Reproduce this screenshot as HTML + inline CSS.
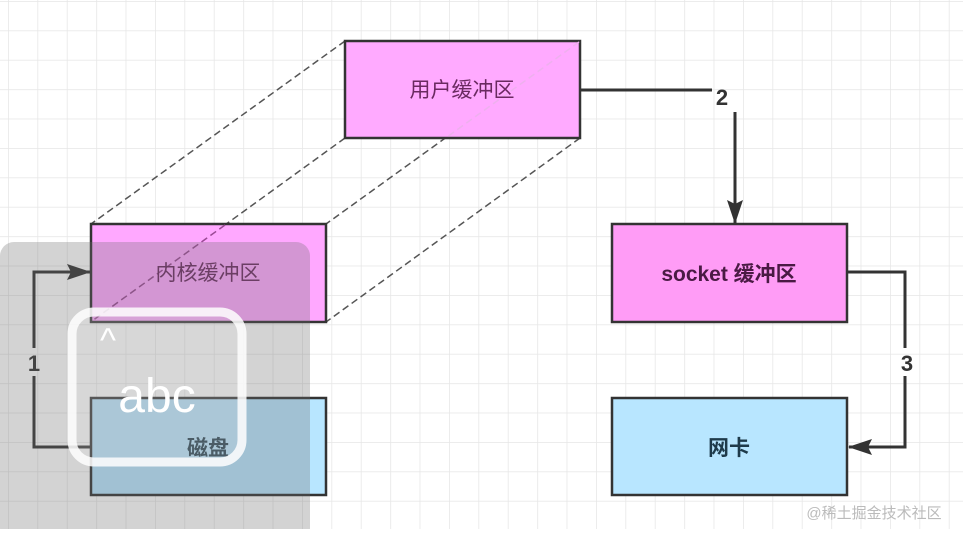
<!DOCTYPE html>
<html><head><meta charset="utf-8"><style>
body{margin:0;width:963px;height:529px;overflow:hidden;background:#fff;font-family:"Liberation Sans","Noto Sans CJK SC",sans-serif}
</style></head><body>
<svg width="963" height="529" xmlns="http://www.w3.org/2000/svg">
<defs>
<pattern id="g" x="8" y="1" width="29.4" height="29.4" patternUnits="userSpaceOnUse">
<path d="M0 0V29.4M0 0H29.4" stroke="#e6e6e6" stroke-width="1.5" fill="none"/>
</pattern>
<marker id="a" markerWidth="24" markerHeight="16" refX="23" refY="8" orient="auto" markerUnits="userSpaceOnUse"><path d="M0 0L24 8L0 16L4 8z" fill="#333"/></marker>
</defs>
<rect width="963" height="529" fill="url(#g)"/>
<g stroke="#555" stroke-width="1.5" stroke-dasharray="7,4" fill="none">
<line x1="345" y1="41" x2="91" y2="224"/>
<line x1="345" y1="138" x2="91" y2="322"/>
<line x1="580" y1="41" x2="326" y2="224"/>
<line x1="580" y1="138" x2="326" y2="322"/>
</g>
<g stroke="#333" stroke-width="2.5">
<rect x="345" y="41" width="235" height="97" fill="#ffaaff"/>
<rect x="91" y="224" width="235" height="98" fill="#ffa8ff"/>
<rect x="91" y="398" width="235" height="97" fill="#b8e6ff"/>
<rect x="612" y="224" width="235" height="98" fill="#ff9cf6"/>
<rect x="612" y="398" width="235" height="97" fill="#b8e6ff"/>
</g>
<g stroke-width="1.5" stroke-dasharray="7,4" fill="none">
<line x1="579" y1="42" x2="447" y2="137" stroke="#eeb0ee"/>
<line x1="225" y1="225" x2="92" y2="321" stroke="#9a4a94"/>
</g>
<g fill="none" stroke="#333" stroke-width="3">
<path d="M580 90H712"/>
<path d="M735 112V223" marker-end="url(#a)"/>
<path d="M847 272H905V348M905 376V447H849" marker-end="url(#a)"/>
<path d="M91 447H34V376M34 348V272H90" marker-end="url(#a)"/>
</g>
<g font-size="22" font-weight="bold" fill="#333" text-anchor="middle">
<text x="722" y="105">2</text>
<text x="907" y="371">3</text>
<text x="34" y="371">1</text>
</g>
<g font-size="21" fill="#6a2a60" text-anchor="middle">
<text x="462" y="97">用户缓冲区</text>
<text x="208" y="280">内核缓冲区</text>
<text x="729" y="281" font-weight="bold" fill="#4a1a44">socket 缓冲区</text>
<text x="208" y="455" font-weight="bold" fill="#1e3a4a">磁盘</text>
<text x="729" y="455" font-weight="bold" fill="#1e3a4a">网卡</text>
</g>
<rect x="0" y="242" width="310" height="300" rx="14" fill="rgba(110,110,110,0.3)"/>
<rect x="72" y="312" width="170" height="150" rx="22" fill="rgba(255,255,255,0.12)" stroke="#fff" stroke-width="9" opacity="0.85"/>
<text x="108" y="352" font-size="34" fill="#fff" text-anchor="middle">^</text>
<text x="157" y="412" font-size="48" fill="#fff" text-anchor="middle">abc</text>
<text x="874" y="518" font-size="15" fill="#bbb" text-anchor="middle">@稀土掘金技术社区</text>
</svg>
</body></html>
